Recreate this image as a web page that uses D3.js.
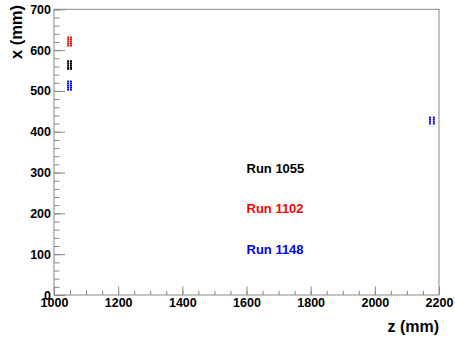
<!DOCTYPE html>
<html lang="en">
<head>
    <meta charset="UTF-8">
    <title>x vs z</title>
    <script src="https://d3js.org/d3.v7.min.js"></script>
    <style>
        body { margin: 0; background: white; }
        svg { display: block; font-family: "Liberation Sans", Arial, sans-serif; font-weight: bold; }
    </style>
</head>
<body>
    <svg id="chart" width="455" height="338"></svg>
    <script>
        // data (z in mm, x in mm)
        const runNames = ["Run 1055", "Run 1102", "Run 1148"];
        const run1055 = [[1044, 573], [1044, 568], [1044, 563], [1044, 558], [1044, 554],
                         [1053, 573], [1053, 568], [1053, 563], [1053, 558], [1053, 554]];
        const run1102 = [[1044, 631], [1044, 626], [1044, 621], [1044, 616], [1044, 611],
                         [1053, 631], [1053, 626], [1053, 621], [1053, 616], [1053, 611]];
        const run1148 = [[1044, 523], [1044, 518], [1044, 513], [1044, 508], [1044, 503],
                         [1053, 523], [1053, 518], [1053, 513], [1053, 508], [1053, 503],
                         [2172, 435], [2172, 430], [2172, 425], [2172, 420],
                         [2184, 435], [2184, 430], [2184, 425], [2184, 420]];
        const labelZ = 1600;
        const labelX = [300, 200, 100];
        const zTicks = [1000, 1200, 1400, 1600, 1800, 2000, 2200];
        const xTicks = [0, 100, 200, 300, 400, 500, 600, 700];

        const colors = ["#000000", "#ff0000", "#0000ff"];
        const runs = [run1055, run1102, run1148];

        const svg = d3.select("#chart");
        const margin = { left: 54, right: 439, top: 9.3, bottom: 295 };

        const x = d3.scaleLinear().domain([1000, 2200]).range([margin.left, margin.right]);
        const y = d3.scaleLinear().domain([0, 700]).range([margin.bottom, margin.top]);

        const axisColor = "#888";
        const styleText = g => g.selectAll("text")
            .attr("font-size", 12.5)
            .attr("font-family", "Liberation Sans, Arial, sans-serif")
            .attr("font-weight", "bold")
            .attr("fill", "#000");

        // minor ticks
        svg.append("g")
            .attr("transform", `translate(0,${margin.bottom})`)
            .call(d3.axisBottom(x).tickValues(d3.range(1000, 2201, 50)).tickSize(-4.3).tickFormat(""))
            .call(g => g.select(".domain").remove())
            .call(g => g.selectAll("line").attr("stroke", axisColor));
        svg.append("g")
            .attr("transform", `translate(${margin.left},0)`)
            .call(d3.axisLeft(y).tickValues(d3.range(0, 701, 20)).tickSize(-5.5).tickFormat(""))
            .call(g => g.select(".domain").remove())
            .call(g => g.selectAll("line").attr("stroke", axisColor));

        // major ticks + labels
        svg.append("g")
            .attr("transform", `translate(0,${margin.bottom})`)
            .call(d3.axisBottom(x).tickValues(zTicks).tickSizeInner(-8.5).tickSizeOuter(0).tickPadding(3).tickFormat(d3.format("d")))
            .call(g => g.select(".domain").remove())
            .call(g => g.selectAll("line").attr("stroke", axisColor))
            .call(styleText);
        svg.append("g")
            .attr("transform", `translate(${margin.left},0)`)
            .call(d3.axisLeft(y).tickValues(xTicks).tickSizeInner(-11).tickSizeOuter(0).tickPadding(3).tickFormat(d3.format("d")))
            .call(g => g.select(".domain").remove())
            .call(g => g.selectAll("line").attr("stroke", axisColor))
            .call(styleText);

        // frame
        svg.append("rect")
            .attr("x", margin.left).attr("y", margin.top)
            .attr("width", margin.right - margin.left).attr("height", margin.bottom - margin.top)
            .attr("fill", "none").attr("stroke", axisColor).attr("stroke-width", 1);

        // points
        runs.forEach((pts, i) => {
            svg.append("g").selectAll("rect")
                .data(pts)
                .join("rect")
                .attr("x", d => x(d[0]) - 1)
                .attr("y", d => y(d[1]) - 0.9)
                .attr("width", 2)
                .attr("height", 1.8)
                .attr("fill", colors[i]);
        });

        // run labels
        svg.append("g").selectAll("text")
            .data(runNames)
            .join("text")
            .attr("x", x(labelZ))
            .attr("y", (d, i) => y(labelX[i]))
            .attr("font-size", 13)
            .attr("fill", (d, i) => colors[i])
            .text(d => d);

        // axis titles
        svg.append("text")
            .attr("x", margin.right)
            .attr("y", 332)
            .attr("text-anchor", "end")
            .attr("font-size", 16)
            .text("z (mm)");
        svg.append("text")
            .attr("transform", "translate(22,5) rotate(-90)")
            .attr("text-anchor", "end")
            .attr("font-size", 16.5)
            .text("x (mm)");
    </script>
</body>
</html>
